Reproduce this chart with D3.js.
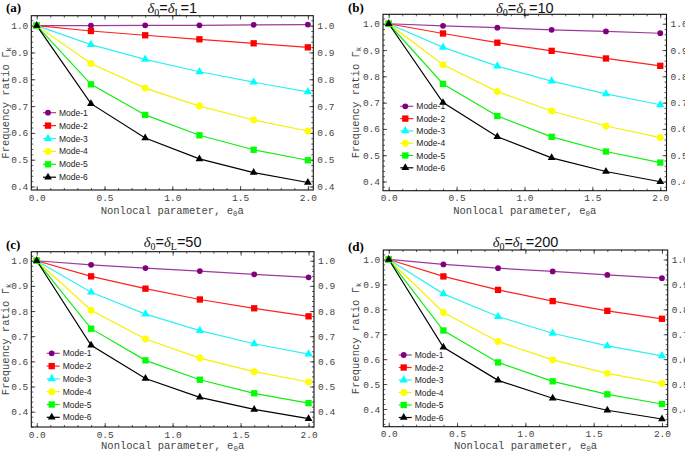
<!DOCTYPE html>
<html><head><meta charset="utf-8">
<script src="https://cdn.jsdelivr.net/npm/d3@7"></script>
<style>body{margin:0;background:#fff} svg{display:block}</style>
</head><body>
<svg id="c" width="685" height="452"></svg>
<script>
// ---------------- data ----------------
const xVals = [0, 0.4, 0.8, 1.2, 1.6, 2.0];
const modeNames = ["Mode-1", "Mode-2", "Mode-3", "Mode-4", "Mode-5", "Mode-6"];
const xTicks = [0, 0.5, 1.0, 1.5, 2.0];
const yTicks = [0.4, 0.5, 0.6, 0.7, 0.8, 0.9, 1.0];
const deltaValues = ["1", "10", "50", "200"];
const panelLabels = ["(a)", "(b)", "(c)", "(d)"];

// panel (a) delta = 1
const seriesA = [
  [1.0, 1.0, 1.001, 1.001, 1.003, 1.004],
  [1.0, 0.980, 0.964, 0.949, 0.934, 0.919],
  [1.0, 0.929, 0.874, 0.828, 0.789, 0.753],
  [1.0, 0.859, 0.767, 0.700, 0.648, 0.607],
  [1.0, 0.781, 0.667, 0.591, 0.537, 0.498],
  [1.0, 0.709, 0.581, 0.503, 0.452, 0.415]
];
// panel (b) delta = 10
const seriesB = [
  [1.0, 0.992, 0.985, 0.977, 0.971, 0.964],
  [1.0, 0.963, 0.928, 0.897, 0.868, 0.840],
  [1.0, 0.910, 0.839, 0.782, 0.733, 0.692],
  [1.0, 0.844, 0.742, 0.668, 0.611, 0.567],
  [1.0, 0.771, 0.649, 0.570, 0.514, 0.472],
  [1.0, 0.700, 0.570, 0.490, 0.438, 0.399]
];
// panel (c) delta = 50
const seriesC = [
  [1.0, 0.984, 0.971, 0.959, 0.946, 0.934],
  [1.0, 0.938, 0.889, 0.846, 0.811, 0.779],
  [1.0, 0.875, 0.788, 0.722, 0.670, 0.629],
  [1.0, 0.803, 0.689, 0.613, 0.559, 0.518],
  [1.0, 0.730, 0.604, 0.527, 0.473, 0.434],
  [1.0, 0.664, 0.532, 0.457, 0.409, 0.372]
];
// panel (d) delta = 200
const seriesD = [
  [1.0, 0.980, 0.965, 0.952, 0.938, 0.925],
  [1.0, 0.932, 0.878, 0.833, 0.794, 0.762],
  [1.0, 0.862, 0.771, 0.704, 0.653, 0.613],
  [1.0, 0.787, 0.671, 0.597, 0.543, 0.502],
  [1.0, 0.715, 0.587, 0.511, 0.459, 0.420],
  [1.0, 0.648, 0.515, 0.443, 0.395, 0.360]
];

// ---------------- style ----------------
const modeColors = ["#800080", "#ff0000", "#00ffff", "#ffff00", "#00ff00", "#000000"];
const lineColors = ["#9a3d9a", "#ff2020", "#30f0f0", "#f5f000", "#10ee10", "#000000"];
const modeShapes = [d3.symbolCircle, d3.symbolSquare, d3.symbolTriangle, d3.symbolCircle, d3.symbolSquare, d3.symbolTriangle];
const modeSizes = [26, 40, 30, 38, 40, 26];

const layouts = [
  {left: 31.3, right: 313.3, top: 15.7, bottom: 190, xDom: [-0.04, 2.04], yDom: [0.387, 1.037],
   leg: {x: 48, y: 112.7, dy: 12.9}, title: {y: 12.5}, lab: {x: 6, y: 12}, xt: 214, yt: 9},
  {left: 383, right: 666.5, top: 14.3, bottom: 190.7, xDom: [-0.042, 2.046], yDom: [0.365, 1.036],
   leg: {x: 405.3, y: 106.3, dy: 12.3}, title: {y: 12.5}, lab: {x: 348, y: 12}, xt: 214, yt: 359},
  {left: 31.3, right: 314, top: 251.7, bottom: 427, xDom: [-0.04, 2.04], yDom: [0.339, 1.036],
   leg: {x: 51.7, y: 353.3, dy: 12.8}, title: {y: 247}, lab: {x: 6, y: 249}, xt: 449, yt: 9},
  {left: 383.3, right: 667.7, top: 250, bottom: 426.7, xDom: [-0.040, 2.042], yDom: [0.329, 1.038],
   leg: {x: 403.7, y: 355, dy: 12.5}, title: {y: 247}, lab: {x: 348, y: 251}, xt: 449, yt: 359}
];
const allSeries = [seriesA, seriesB, seriesC, seriesD];

const svg = d3.select("#c");
const monoFont = "'Liberation Mono', 'DejaVu Sans Mono', monospace";
const tickColor = "#444";

allSeries.forEach((series, p) => {
  const L = layouts[p];
  const g = svg.append("g");
  const x = d3.scaleLinear().domain(L.xDom).range([L.left, L.right]);
  const y = d3.scaleLinear().domain(L.yDom).range([L.bottom, L.top]);

  // minor ticks
  const xMinor = d3.range(0, 2.0001, 0.1);
  const yMinor = d3.range(0.34, 1.0301, 0.02).filter(v => v >= L.yDom[0] && v <= L.yDom[1]);

  const axB = d3.axisBottom(x).tickValues(xTicks).tickFormat(d3.format(".1f")).tickSizeInner(-4).tickSizeOuter(0).tickPadding(4);
  const axT = d3.axisTop(x).tickValues(xTicks).tickFormat("").tickSizeInner(-4).tickSizeOuter(0);
  const axL = d3.axisLeft(y).tickValues(yTicks).tickFormat(d3.format(".1f")).tickSizeInner(-4).tickSizeOuter(0).tickPadding(3);
  const axR = d3.axisRight(y).tickValues(yTicks).tickFormat(d3.format(".1f")).tickSizeInner(-4).tickSizeOuter(0).tickPadding(4);

  const mB = d3.axisBottom(x).tickValues(xMinor).tickFormat("").tickSizeInner(-2).tickSizeOuter(0);
  const mT = d3.axisTop(x).tickValues(xMinor).tickFormat("").tickSizeInner(-2).tickSizeOuter(0);
  const mL = d3.axisLeft(y).tickValues(yMinor).tickFormat("").tickSizeInner(-2).tickSizeOuter(0);
  const mR = d3.axisRight(y).tickValues(yMinor).tickFormat("").tickSizeInner(-2).tickSizeOuter(0);

  const axes = [
    [axB, `translate(0,${L.bottom})`], [axT, `translate(0,${L.top})`],
    [axL, `translate(${L.left},0)`], [axR, `translate(${L.right},0)`],
    [mB, `translate(0,${L.bottom})`], [mT, `translate(0,${L.top})`],
    [mL, `translate(${L.left},0)`], [mR, `translate(${L.right},0)`]
  ];
  axes.forEach(([ax, tr]) => {
    const a = g.append("g").attr("transform", tr).call(ax);
    a.select(".domain").remove();
    a.selectAll("line").attr("stroke", "#333").attr("stroke-width", 0.8);
    a.selectAll("text").attr("font-family", monoFont).attr("font-size", 9.5).attr("fill", tickColor);
  });

  // frame
  g.append("rect").attr("x", L.left).attr("y", L.top)
    .attr("width", L.right - L.left).attr("height", L.bottom - L.top)
    .attr("fill", "none").attr("stroke", "#111").attr("stroke-width", 1.1);

  // lines & markers
  const line = d3.line().x((d, i) => x(xVals[i])).y(d => y(d));
  series.forEach((vals, m) => {
    g.append("path").datum(vals).attr("d", line)
      .attr("fill", "none").attr("stroke", lineColors[m]).attr("stroke-width", 1.2);
  });
  series.forEach((vals, m) => {
    const sym = d3.symbol().type(modeShapes[m]).size(modeSizes[m]);
    g.selectAll(null).data(vals).enter().append("path")
      .attr("d", sym)
      .attr("transform", (d, i) => `translate(${x(xVals[i])},${y(d)})`)
      .attr("fill", modeColors[m]);
  });

  // legend
  modeNames.forEach((name, m) => {
    const ly = L.leg.y + m * L.leg.dy;
    g.append("line").attr("x1", L.leg.x - 5).attr("x2", L.leg.x + 8)
      .attr("y1", ly).attr("y2", ly).attr("stroke", lineColors[m]).attr("stroke-width", 1.2);
    const sym = d3.symbol().type(modeShapes[m]).size(modeSizes[m]);
    g.append("path").attr("d", sym).attr("transform", `translate(${L.leg.x},${ly})`).attr("fill", modeColors[m]);
    g.append("text").attr("x", L.leg.x + 11).attr("y", ly + 3)
      .attr("font-family", "'Liberation Sans', Arial, sans-serif").attr("font-size", 8.5)
      .attr("fill", "#222").text(name);
  });

  // title
  const cx = (L.left + L.right) / 2;
  const t = g.append("text").attr("x", cx).attr("y", L.title.y).attr("text-anchor", "middle")
    .attr("font-family", "'Liberation Sans', Arial, sans-serif").attr("font-size", 14.5).attr("fill", "#111");
  t.append("tspan").attr("font-family", "'Liberation Serif', serif").attr("font-style", "italic").text("δ");
  t.append("tspan").attr("font-size", 10).attr("dy", 3).attr("font-family", "'Liberation Serif', serif").text("0");
  t.append("tspan").attr("dy", -3).text("=");
  t.append("tspan").attr("font-family", "'Liberation Serif', serif").attr("font-style", "italic").text("δ");
  t.append("tspan").attr("font-size", 10).attr("dy", 3).attr("font-family", "'Liberation Serif', serif").text("L");
  t.append("tspan").attr("dy", -3).text("=" + deltaValues[p]);

  // panel label
  g.append("text").attr("x", L.lab.x).attr("y", L.lab.y)
    .attr("font-family", "'Liberation Serif', serif").attr("font-weight", "bold").attr("font-size", 13)
    .attr("fill", "#000").text(panelLabels[p]);

  // x title
  const xt = g.append("text").attr("x", cx).attr("y", L.xt).attr("text-anchor", "middle")
    .attr("font-family", monoFont).attr("font-size", 10.5).attr("fill", tickColor);
  xt.append("tspan").text("Nonlocal parameter, e");
  xt.append("tspan").attr("font-size", 7.5).attr("dy", 2).text("0");
  xt.append("tspan").attr("dy", -2).text("a");

  // y title
  const cy = (L.top + L.bottom) / 2;
  const yt = g.append("text").attr("transform", `translate(${L.yt},${cy}) rotate(-90)`)
    .attr("text-anchor", "middle").attr("font-family", monoFont).attr("font-size", 10.5).attr("fill", tickColor);
  yt.append("tspan").text("Frequency ratio Γ");
  yt.append("tspan").attr("font-size", 7.5).attr("dy", 2).text("k");
});
</script>
</body></html>
